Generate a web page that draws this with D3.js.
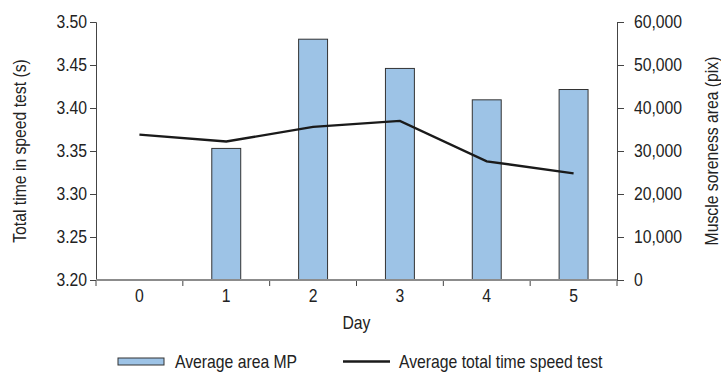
<!DOCTYPE html>
<html>
<head>
<meta charset="utf-8">
<script src="https://cdn.jsdelivr.net/npm/d3@7"></script>
<style>
  body { margin: 0; background: #fff; }
  text { font-family: "Liberation Sans", Arial, sans-serif; fill: #222; }
</style>
</head>
<body>
<div id="chart"></div>
<script>
// data
var days = ["0", "1", "2", "3", "4", "5"];
var areaMP = [null, 30600, 56000, 49200, 41900, 44300];
var totalTime = [3.369, 3.361, 3.378, 3.385, 3.338, 3.324];
var leftTicks = [3.20, 3.25, 3.30, 3.35, 3.40, 3.45, 3.50];
var rightTicks = [0, 10000, 20000, 30000, 40000, 50000, 60000];

var margin = { top: 22, right: 104, bottom: 92, left: 96 },
  width = 721 - margin.left - margin.right,
  height = 372 - margin.top - margin.bottom;

var FS = "17.5px", K = 0.9; // font size and horizontal squeeze (narrow look)

// squeeze text horizontally, keeping its anchor where it was
function narrow(sel) {
  sel.each(function () {
    var t = d3.select(this);
    var x = +t.attr("x") || 0;
    t.attr("x", x / K)
      .attr("transform", (t.attr("transform") || "") + " scale(" + K + ",1)")
      .style("font-size", FS);
  });
}

var svg = d3.select("#chart")
  .append("svg")
  .attr("width", 721)
  .attr("height", 372)
  .append("g")
  .attr("transform", "translate(" + margin.left + "," + margin.top + ")");

var x = d3.scaleBand().domain(days).range([0, width]);
var yL = d3.scaleLinear().domain([3.20, 3.50]).range([height, 0]);
var yR = d3.scaleLinear().domain([0, 60000]).range([height, 0]);

// bars
var barW = x.bandwidth() / 3;
var barData = days.map(function (d, i) { return { day: d, v: areaMP[i] }; })
  .filter(function (d) { return d.v != null; });
svg.selectAll(".bar")
  .data(barData)
  .enter().append("rect")
  .attr("x", function (d) { return x(d.day) + x.bandwidth() / 2 - barW / 2; })
  .attr("y", function (d) { return yR(d.v); })
  .attr("width", barW)
  .attr("height", function (d) { return height - yR(d.v); })
  .attr("fill", "#9dc3e6")
  .attr("stroke", "#333")
  .attr("stroke-width", 1);

// line
var lineData = days.map(function (d, i) { return { day: d, v: totalTime[i] }; });
svg.append("path")
  .datum(lineData)
  .attr("fill", "none")
  .attr("stroke", "#1a1a1a")
  .attr("stroke-width", 2.4)
  .attr("d", d3.line()
    .x(function (d) { return x(d.day) + x.bandwidth() / 2; })
    .y(function (d) { return yL(d.v); }));

// left axis
var gL = svg.append("g")
  .call(d3.axisLeft(yL).tickValues(leftTicks).tickFormat(d3.format(".2f")).tickSize(6).tickPadding(3));
// right axis
var gR = svg.append("g")
  .attr("transform", "translate(" + width + ",0)")
  .call(d3.axisRight(yR).tickValues(rightTicks).tickFormat(d3.format(",")).tickSize(7).tickPadding(10));
// x axis
var gX = svg.append("g")
  .attr("transform", "translate(0," + height + ")")
  .call(d3.axisBottom(x).tickSize(0).tickPadding(10));
gX.selectAll(".domain").remove();
// band boundary ticks
svg.append("g").selectAll("line")
  .data(x.domain().map(function (d) { return x(d); }).concat([width]))
  .enter().append("line")
  .attr("x1", function (d) { return d; })
  .attr("x2", function (d) { return d; })
  .attr("y1", height)
  .attr("y2", height + 6)
  .attr("stroke", "#444");
svg.append("line")
  .attr("x1", 0).attr("x2", width)
  .attr("y1", height).attr("y2", height)
  .attr("stroke", "#8c8c8c").attr("stroke-width", 2);

[gL, gR, gX].forEach(function (g) {
  narrow(g.selectAll("text"));
  g.selectAll(".domain, .tick line").attr("stroke", "#444");
});

// axis titles
svg.append("text")
  .attr("transform", "translate(" + (-70) + "," + (height / 2) + ") rotate(-90)")
  .attr("text-anchor", "middle")
  .text("Total time in speed test (s)")
  .call(narrow);
svg.append("text")
  .attr("transform", "translate(" + (width + 101) + "," + (height / 2) + ") rotate(-90)")
  .attr("text-anchor", "middle")
  .text("Muscle soreness area (pix)")
  .call(narrow);
svg.append("text")
  .attr("x", width / 2)
  .attr("y", height + 49)
  .attr("text-anchor", "middle")
  .text("Day")
  .call(narrow);

// legend
var leg = svg.append("g").attr("transform", "translate(0," + (height + 81.5) + ")");
leg.append("rect")
  .attr("x", 22).attr("y", -3.5).attr("width", 46).attr("height", 7)
  .attr("fill", "#9dc3e6").attr("stroke", "#333");
leg.append("text").attr("x", 79).attr("y", 6.5).text("Average area MP").call(narrow);
leg.append("line")
  .attr("x1", 247).attr("x2", 294).attr("y1", 0).attr("y2", 0)
  .attr("stroke", "#1a1a1a").attr("stroke-width", 2.4);
leg.append("text").attr("x", 303).attr("y", 6.5).text("Average total time speed test").call(narrow);
</script>
</body>
</html>
